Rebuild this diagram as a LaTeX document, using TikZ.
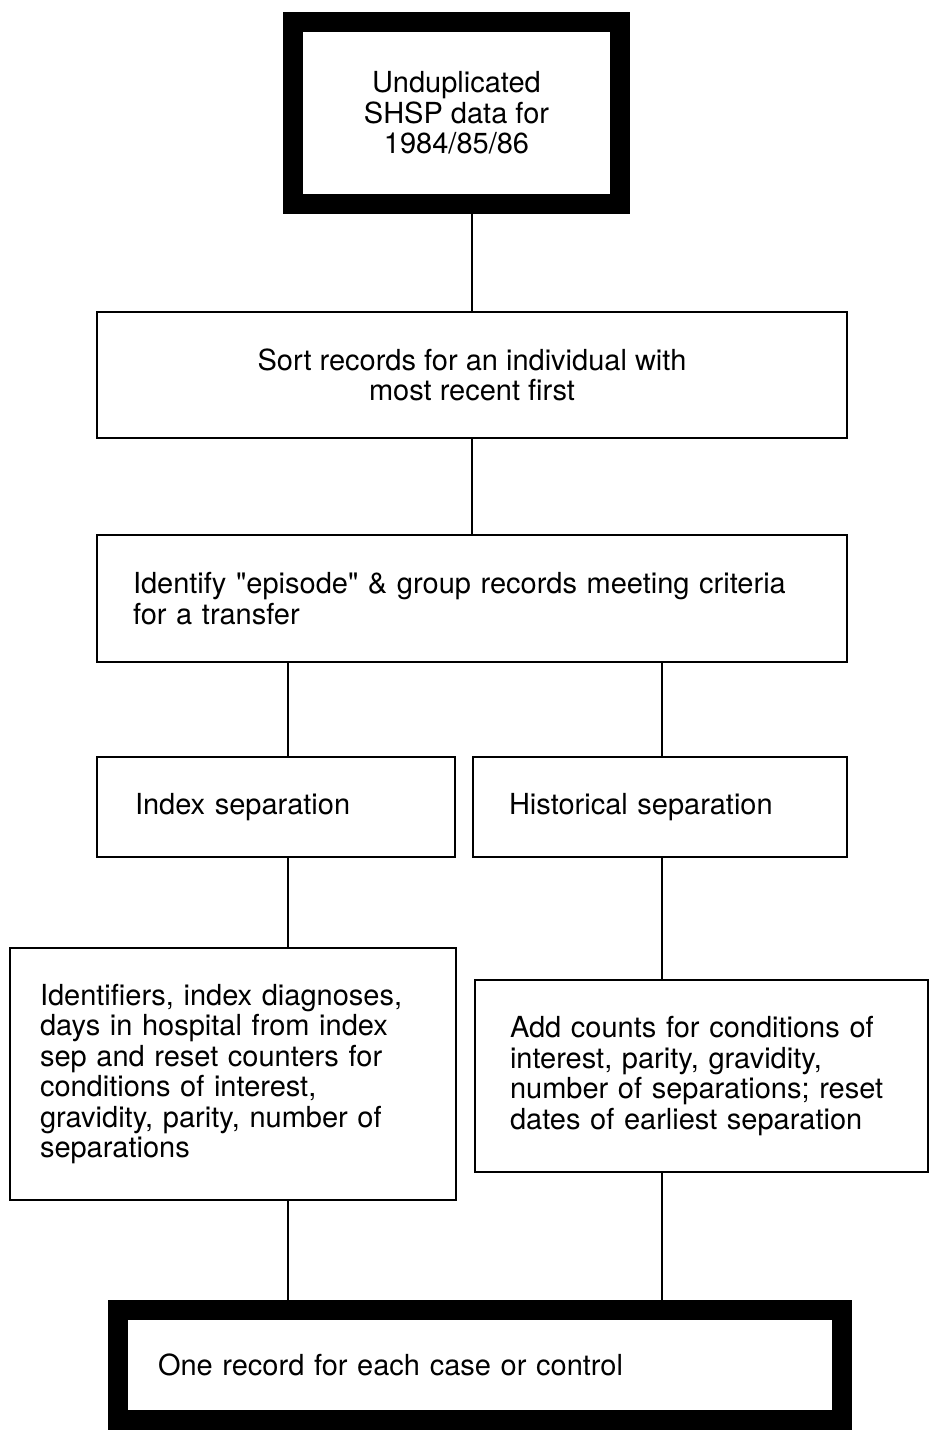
\documentclass[tikz,border=0pt]{standalone}
\usepackage{fontspec}
\setmainfont{TeX Gyre Heros}
\usetikzlibrary{positioning}

\begin{document}
\begin{tikzpicture}[
    x=1pt, y=-1pt,
    box/.style={rectangle, draw=black, line width=2.5pt, fill=white, inner sep=0pt, font=\fontsize{29}{30.5}\selectfont},
    thickbox/.style={box, line width=20pt},
    link/.style={draw=black, line width=1.5pt}
]
\useasboundingbox (0,0) rectangle (930,1434);

\coordinate (lx) at (288,0);
\coordinate (rx) at (662,0);

\node[thickbox, minimum width=327pt, minimum height=182pt, align=center] (data) at (456.5,113) {Unduplicated\\SHSP data for\\1984/85/86};
\node[box, minimum width=750pt, minimum height=126pt, align=center] (sort) at (472,375) {Sort records for an individual with\\most recent first};
\node[box, minimum width=750pt, minimum height=127pt, text width=678pt, align=left] (episode) at (472,598.5) {Identify \textquotedbl episode\textquotedbl{} \& group records meeting criteria\\for a transfer};

\node[box, minimum width=358pt, minimum height=100pt, text width=282pt, align=left] (index) at (276,807) {Index separation};
\node[box, minimum width=374pt, minimum height=100pt, text width=302pt, align=left] (hist) at (660,807) {Historical separation};

\node[box, minimum width=446pt, minimum height=252pt, text width=386pt, align=left] (indexrec) at (233,1074) {Identifiers, index diagnoses,\\days in hospital from index\\sep and reset counters for\\conditions of interest,\\gravidity, parity, number of\\separations};
\node[box, minimum width=453pt, minimum height=192pt, text width=383pt, align=left] (histrec) at (701.5,1076) {Add counts for conditions of\\interest, parity, gravidity,\\number of separations; reset\\dates of earliest separation};

\node[thickbox, minimum width=724pt, minimum height=110pt, text width=644pt, align=left] (result) at (480,1365) {One record for each case or control};

\draw[link] (sort.north |- data.south) -- (sort.north);
\draw[link] (sort.south) -- (episode.north);
\draw[link] (episode.south -| lx) -- (index.north -| lx);
\draw[link] (episode.south -| rx) -- (hist.north -| rx);
\draw[link] (index.south -| lx) -- (indexrec.north -| lx);
\draw[link] (hist.south -| rx) -- (histrec.north -| rx);
\draw[link] (indexrec.south -| lx) -- (result.north -| lx);
\draw[link] (histrec.south -| rx) -- (result.north -| rx);

\end{tikzpicture}
\end{document}
